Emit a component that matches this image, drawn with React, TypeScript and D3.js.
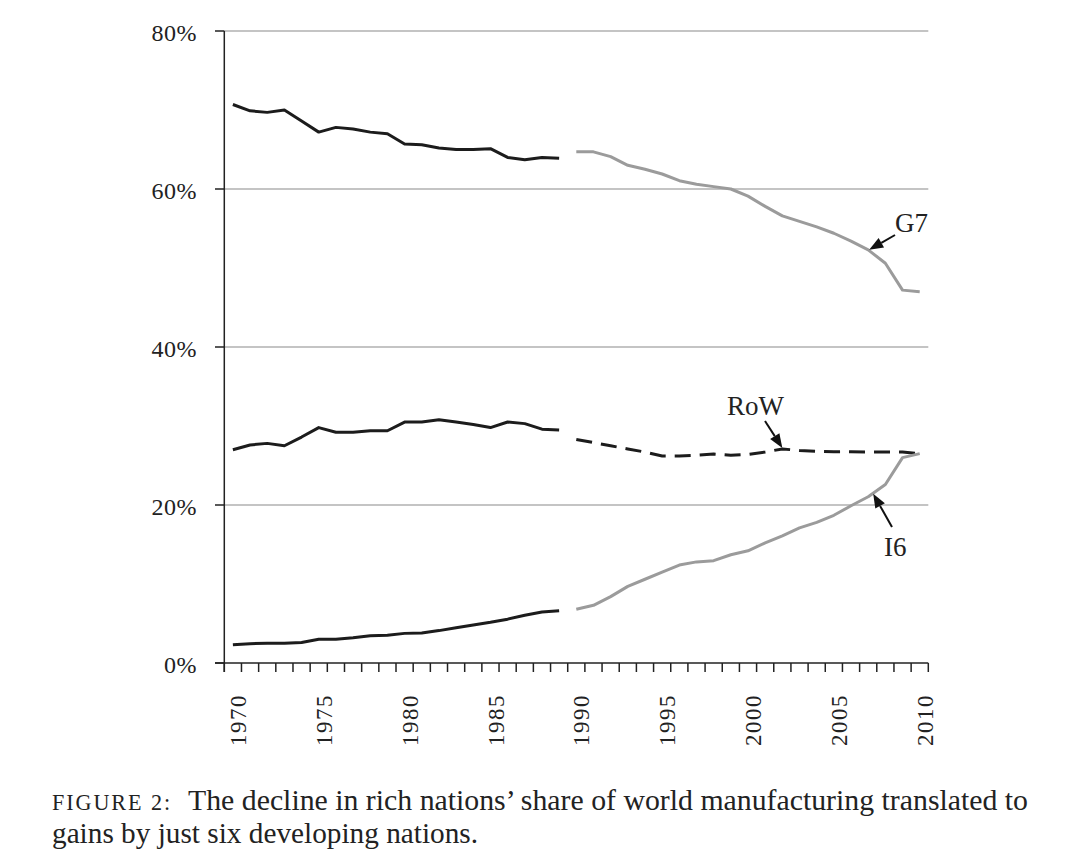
import React from "react";
import * as d3 from "d3";

const years: number[] = d3.range(1970, 2011);

// G7 share (%), 1970-1989 (black) and 1990-2010 (gray)
const g7Early: number[] = [70.7, 69.9, 69.7, 70.0, 68.6, 67.2, 67.8, 67.6, 67.2, 67.0, 65.7, 65.6, 65.2, 65.0, 65.0, 65.1, 64.0, 63.7, 64.0, 63.9];
const g7Late: number[] = [64.7, 64.7, 64.1, 63.0, 62.5, 61.9, 61.05, 60.6, 60.3, 60.0, 59.1, 57.8, 56.6, 55.9, 55.2, 54.4, 53.4, 52.3, 50.6, 47.2, 47.0];

// Rest of world
const rowEarly: number[] = [27.0, 27.6, 27.8, 27.5, 28.6, 29.8, 29.2, 29.2, 29.4, 29.4, 30.5, 30.5, 30.8, 30.5, 30.2, 29.8, 30.5, 30.3, 29.6, 29.5];
const rowLate: number[] = [28.3, 27.9, 27.5, 27.1, 26.7, 26.2, 26.2, 26.3, 26.45, 26.3, 26.4, 26.7, 27.1, 26.9, 26.8, 26.75, 26.75, 26.7, 26.7, 26.7, 26.5];

// Six industrializing nations
const i6Early: number[] = [2.3, 2.45, 2.5, 2.5, 2.6, 3.0, 3.0, 3.2, 3.45, 3.5, 3.75, 3.8, 4.1, 4.45, 4.8, 5.15, 5.55, 6.05, 6.45, 6.6];
const i6Late: number[] = [6.8, 7.3, 8.4, 9.7, 10.6, 11.5, 12.4, 12.8, 12.95, 13.7, 14.2, 15.2, 16.1, 17.1, 17.8, 18.7, 19.9, 21.05, 22.6, 26.0, 26.5];

const yTicks: number[] = [0, 20, 40, 60, 80];
const xLabelYears: number[] = [1970, 1975, 1980, 1985, 1990, 1995, 2000, 2005, 2010];

const earlyYears = years.slice(0, 20);
const lateYears = years.slice(20);

const W = 1080;
const H = 861;

const x = d3.scaleBand<number>().domain(years).range([224.3, 928.3]).paddingInner(0).paddingOuter(0);
const y = d3.scaleLinear().domain([0, 80]).range([663, 31]);
const cx = (yr: number) => (x(yr) as number) + x.bandwidth() / 2;

type Pt = [number, number];
const line = d3
  .line<Pt>()
  .x((d) => cx(d[0]))
  .y((d) => y(d[1]));

const zip = (ys: number[], vs: number[]): Pt[] => ys.map((yr, i) => [yr, vs[i]]);

const BLACK = "#1c1c1c";
const GRAY = "#9b9b9b";
const FONT = "'Liberation Serif', 'DejaVu Serif', serif";

function Arrow({ x1, y1, x2, y2 }: { x1: number; y1: number; x2: number; y2: number }) {
  const ang = Math.atan2(y2 - y1, x2 - x1);
  const len = 14;
  const half = 5.5;
  const bx = x2 - len * Math.cos(ang);
  const by = y2 - len * Math.sin(ang);
  const px = -Math.sin(ang) * half;
  const py = Math.cos(ang) * half;
  return (
    <g>
      <line x1={x1} y1={y1} x2={bx} y2={by} stroke="#111" strokeWidth={2} />
      <path d={`M${x2},${y2} L${bx + px},${by + py} L${bx - px},${by - py} Z`} fill="#111" />
    </g>
  );
}

export default function App() {
  const bounds = [...years.map((yr) => x(yr) as number), (x(2010) as number) + x.bandwidth()];
  const xLeft = 215;
  const xRight = 928.3;

  const g7Tip: Pt = [cx(2007) + 1, y(52.3)];
  const rowTip: Pt = [cx(2002), y(27.1) - 1];
  const i6Tip: Pt = [cx(2007) + 5, y(21.05) - 3];

  return (
    <div style={{ position: "absolute", left: 0, top: 0 }}>
      <svg width={W} height={H} viewBox={`0 0 ${W} ${H}`} style={{ display: "block", background: "#fff" }}>
        {/* gridlines */}
        {yTicks
          .filter((t) => t > 0)
          .map((t) => (
            <line key={"g" + t} x1={224.3} x2={xRight} y1={y(t)} y2={y(t)} stroke="#b0b0b0" strokeWidth={1.3} />
          ))}
        {/* y ticks and labels */}
        {yTicks.map((t) => (
          <g key={"y" + t}>
            <line x1={xLeft} x2={224.3} y1={y(t)} y2={y(t)} stroke="#222" strokeWidth={1.5} />
            <text
              x={197}
              y={y(t) + 10}
              textAnchor="end"
              fontFamily={FONT}
              fontSize={24}
              letterSpacing={0.5}
              fill="#222"
            >
              {t}%
            </text>
          </g>
        ))}
        {/* axes */}
        <line x1={224.3} x2={224.3} y1={31} y2={672} stroke="#222" strokeWidth={1.5} />
        <line x1={xLeft} x2={xRight} y1={y(0)} y2={y(0)} stroke="#222" strokeWidth={1.5} />
        {bounds.map((b, i) => (
          <line key={"xt" + i} x1={b} x2={b} y1={y(0)} y2={672} stroke="#222" strokeWidth={1.5} />
        ))}
        {xLabelYears.map((yr) => (
          <text
            key={"xl" + yr}
            transform={`translate(${cx(yr) + 5},${720}) rotate(-90)`}
            textAnchor="middle"
            dy="0.35em"
            fontFamily={FONT}
            fontSize={23}
            letterSpacing={1.5}
            fill="#222"
          >
            {yr}
          </text>
        ))}

        {/* series */}
        <path d={line(zip(earlyYears, g7Early)) || ""} fill="none" stroke={BLACK} strokeWidth={3} strokeLinejoin="round" />
        <path d={line(zip(lateYears, g7Late)) || ""} fill="none" stroke={GRAY} strokeWidth={3} strokeLinejoin="round" />
        <path d={line(zip(earlyYears, rowEarly)) || ""} fill="none" stroke={BLACK} strokeWidth={3} strokeLinejoin="round" />
        <path
          d={line(zip(lateYears, rowLate)) || ""}
          fill="none"
          stroke={BLACK}
          strokeWidth={3}
          strokeDasharray="16 9"
          strokeLinejoin="round"
        />
        <path d={line(zip(earlyYears, i6Early)) || ""} fill="none" stroke={BLACK} strokeWidth={3} strokeLinejoin="round" />
        <path d={line(zip(lateYears, i6Late)) || ""} fill="none" stroke={GRAY} strokeWidth={3} strokeLinejoin="round" />

        {/* annotations */}
        <text x={895} y={232} fontFamily={FONT} fontSize={27} fill="#222">
          G7
        </text>
        <Arrow x1={895} y1={235} x2={g7Tip[0]} y2={g7Tip[1]} />
        <text x={727} y={415} fontFamily={FONT} fontSize={27} fill="#222">
          RoW
        </text>
        <Arrow x1={765} y1={421} x2={rowTip[0]} y2={rowTip[1]} />
        <text x={884} y={556} fontFamily={FONT} fontSize={27} fill="#222">
          I6
        </text>
        <Arrow x1={892} y1={527} x2={i6Tip[0]} y2={i6Tip[1]} />

        {/* caption */}
        <text x={52} y={810} fontFamily={FONT} fontSize={23} letterSpacing={2} fill="#222" textLength={120} lengthAdjust="spacingAndGlyphs">
          FIGURE 2:
        </text>
        <text x={188} y={810} fontFamily={FONT} fontSize={29} fill="#222" textLength={840} lengthAdjust="spacingAndGlyphs">
          The decline in rich nations’ share of world manufacturing translated to
        </text>
        <text x={52} y={843} fontFamily={FONT} fontSize={29} fill="#222" textLength={426} lengthAdjust="spacingAndGlyphs">
          gains by just six developing nations.
        </text>
      </svg>
    </div>
  );
}
